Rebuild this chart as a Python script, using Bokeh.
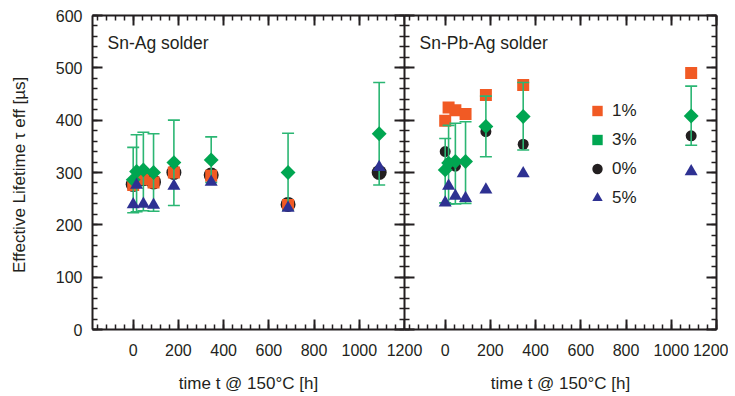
import math
from bokeh.plotting import figure
from bokeh.models import (ColumnDataSource, Range1d, LinearAxis, SingleIntervalTicker,
                          Label, Legend, LegendItem, CustomJSTickFormatter)
from bokeh.layouts import row
from bokeh.embed import file_html
from bokeh.resources import INLINE

# ---------------- data ----------------
# Sn-Ag solder (left panel)
sa_t_0 = [0, 45, 90, 180, 345, 685, 1088]
sa_v_0 = [277, 288, 282, 300, 295, 239, 300]
sa_t_1 = [0, 45, 90, 180, 345, 685]
sa_v_1 = [276, 287, 281, 300, 294, 238]
sa_t_3 = [0, 15, 45, 90, 180, 345, 685, 1088]
sa_v_3 = [286, 302, 305, 300, 319, 324, 300, 374]
sa_lo_3 = [223, 225, 227, 226, 237, 281, 228, 276]
sa_hi_3 = [348, 372, 377, 374, 400, 368, 375, 472]
sa_t_5 = [0, 15, 45, 90, 180, 345, 685, 1088]
sa_v_5 = [239, 276, 240, 238, 274, 282, 232, 310]

# Sn-Pb-Ag solder (right panel)
spa_t_0 = [0, 15, 45, 180, 345, 1088]
spa_v_0 = [340, 318, 312, 378, 354, 370]
spa_t_1 = [0, 15, 45, 90, 180, 345, 1088]
spa_v_1 = [399, 424, 419, 412, 448, 467, 490]
spa_t_3 = [0, 15, 45, 90, 180, 345, 1088]
spa_v_3 = [305, 318, 321, 321, 388, 407, 408]
spa_lo_3 = [242, 240, 240, 241, 330, 343, 352]
spa_hi_3 = [365, 390, 394, 397, 446, 472, 465]
spa_t_5 = [0, 15, 45, 90, 180, 345, 1088]
spa_v_5 = [242, 274, 255, 251, 267, 298, 302]

panel_titles = ["Sn-Ag solder", "Sn-Pb-Ag solder"]
legend_labels = ["1%", "3%", "0%", "5%"]
x_label = "time t @ 150°C [h]"
y_label = "Effective Lifetime τ eff  [µs]"

# ---------------- style ----------------
FONT = "Liberation Sans"
INK = "#231f20"
C_BLACK = "#231f20"
C_ORANGE = "#f15a24"
C_GREEN = "#00a651"
C_GREEN_BAR = "#2bb673"
C_BLUE = "#2e3192"
OVERLAP = 20


def style_axis(ax, labels=True):
    ax.axis_line_width = 2
    ax.axis_line_color = INK
    ax.major_tick_in = 10
    ax.major_tick_out = 0
    ax.minor_tick_in = 5
    ax.minor_tick_out = 0
    ax.major_tick_line_width = 2
    ax.major_tick_line_color = INK
    ax.minor_tick_line_width = 1.5
    ax.minor_tick_line_color = INK
    ax.major_label_text_font = FONT
    ax.major_label_text_color = INK
    ax.axis_label_text_font = FONT
    ax.axis_label_text_color = INK
    ax.axis_label_text_font_style = "normal"
    if labels:
        ax.major_label_text_font_size = "16px"
        ax.axis_label_text_font_size = "17px"
    else:
        ax.formatter = CustomJSTickFormatter(code="return ''")
        ax.major_label_text_font_size = "1px"
        ax.major_label_standoff = 0
        ax.axis_label = None


def make_panel(width, border_left, border_right, show_y, t0, v0, t1, v1, t3, v3, lo3, hi3,
               t5, v5, title, circle_size, **kw):
    p = figure(width=width, height=395, x_range=Range1d(-180, 1200), y_range=Range1d(0, 600),
               output_backend="svg", toolbar_location=None,
               x_axis_location=None, y_axis_location=None,
               min_border_left=border_left, min_border_right=border_right,
               min_border_top=15, min_border_bottom=60, **kw)
    p.grid.visible = False
    p.outline_line_color = None
    p.background_fill_color = "white"

    xt = lambda: SingleIntervalTicker(interval=200, num_minor_ticks=5)
    yt = lambda: SingleIntervalTicker(interval=100, num_minor_ticks=5)

    bottom = LinearAxis(ticker=xt(), axis_label=x_label)
    style_axis(bottom, True)
    bottom.major_label_standoff = 14
    bottom.axis_label_standoff = 15
    p.add_layout(bottom, "below")

    top = LinearAxis(ticker=xt())
    style_axis(top, False)
    p.add_layout(top, "above")

    left = LinearAxis(ticker=yt(), axis_label=y_label if show_y else None)
    style_axis(left, show_y)
    if show_y:
        left.major_label_standoff = 10
        left.axis_label_standoff = 24
    p.add_layout(left, "left")

    right = LinearAxis(ticker=yt())
    style_axis(right, False)
    p.add_layout(right, "right")

    s0 = ColumnDataSource(dict(t=t0, v=v0))
    s1 = ColumnDataSource(dict(t=t1, v=v1))
    s3 = ColumnDataSource(dict(t=t3, v=v3, lo=lo3, hi=hi3))
    s5 = ColumnDataSource(dict(t=t5, v=v5))

    r0 = p.scatter("t", "v", source=s0, marker="circle", size=circle_size,
                   fill_color=C_BLACK, line_color=None)
    r1 = p.scatter("t", "v", source=s1, marker="square", size=12,
                   fill_color=C_ORANGE, line_color=None)
    p.segment(x0="t", y0="lo", x1="t", y1="hi", source=s3, line_color=C_GREEN_BAR, line_width=1.6)
    p.scatter("t", "lo", source=s3, marker="dash", size=12, line_color=C_GREEN_BAR, line_width=1.6)
    p.scatter("t", "hi", source=s3, marker="dash", size=12, line_color=C_GREEN_BAR, line_width=1.6)
    r3 = p.scatter("t", "v", source=s3, marker="square", angle=math.pi / 4, size=10.5,
                   fill_color=C_GREEN, line_color=None)
    r5 = p.scatter("t", "v", source=s5, marker="triangle", size=13,
                   fill_color=C_BLUE, line_color=None)

    p.add_layout(Label(x=15, y=314 - 27, x_units="screen", y_units="screen", text=title,
                       text_font=FONT, text_font_size="17.5px", text_color=INK,
                       text_baseline="middle", text_align="left"))
    return p, (r0, r1, r3, r5)


p1, _ = make_panel(404 + OVERLAP, 92, OVERLAP, True, sa_t_0, sa_v_0, sa_t_1, sa_v_1,
                   sa_t_3, sa_v_3, sa_lo_3, sa_hi_3, sa_t_5, sa_v_5, panel_titles[0], 15)
p1.border_fill_color = "white"
p2, (r0, r1, r3, r5) = make_panel(324, 0, 12, False, spa_t_0, spa_v_0, spa_t_1, spa_v_1,
                                  spa_t_3, spa_v_3, spa_lo_3, spa_hi_3, spa_t_5, spa_v_5,
                                  panel_titles[1], 11, margin=(0, 0, 0, -OVERLAP))
p2.border_fill_alpha = 0

legend = Legend(items=[LegendItem(label=legend_labels[0], renderers=[r1]),
                       LegendItem(label=legend_labels[1], renderers=[r3]),
                       LegendItem(label=legend_labels[2], renderers=[r0]),
                       LegendItem(label=legend_labels[3], renderers=[r5])],
                location=(180, 117), glyph_width=26, glyph_height=29, label_height=29,
                spacing=0, padding=0, margin=0,
                label_text_font=FONT, label_text_font_size="17px", label_text_color=INK,
                label_standoff=2, background_fill_alpha=0, border_line_color=None)
p2.add_layout(legend)

layout = row(p1, p2)
open("out.html", "w").write(file_html(layout, INLINE))
